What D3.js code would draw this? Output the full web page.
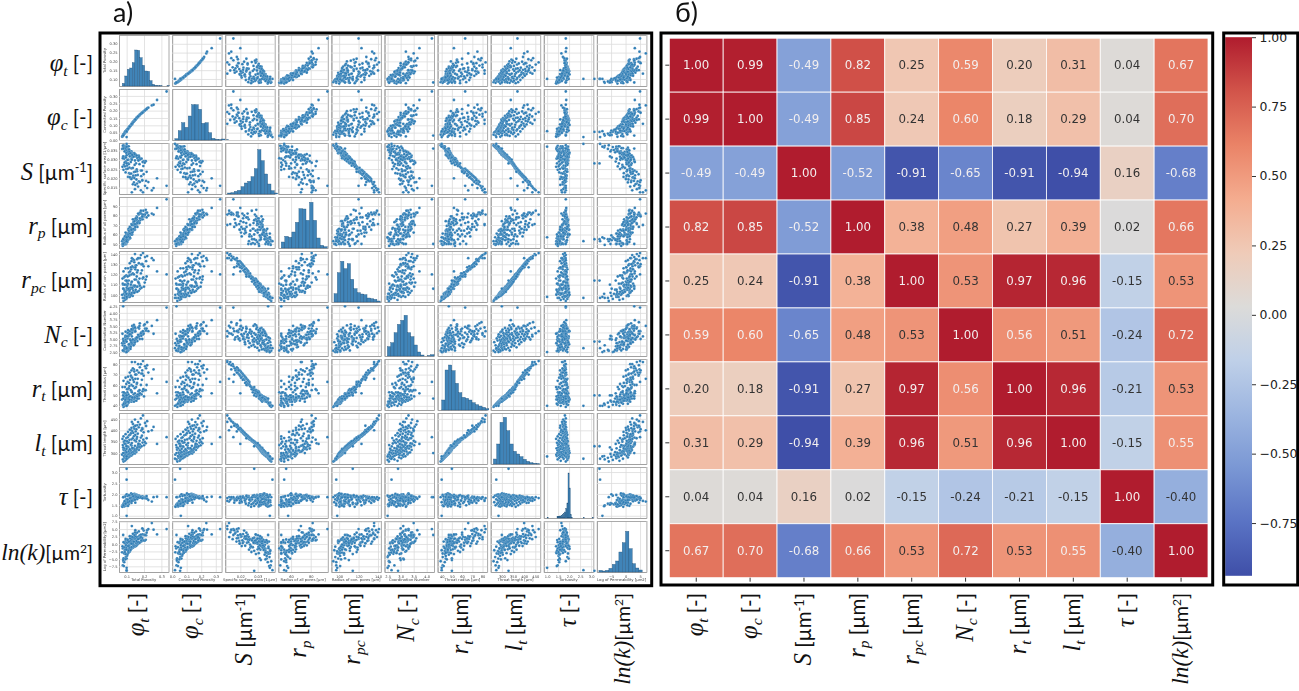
<!DOCTYPE html>
<html><head><meta charset="utf-8">
<script src="https://cdn.jsdelivr.net/npm/d3@7"></script>
<style>html,body{margin:0;padding:0;background:#fff}svg{display:block}</style>
</head><body><svg id="c" width="1299" height="691" xmlns="http://www.w3.org/2000/svg"></svg>
<script>
const axisTitles=["Total Porosity","Connected Porosity","Specific surface area [1/µm]","Radius of all pores [µm]","Radius of con. pores [µm]","Coordination Number","Throat radius [µm]","Throat length [µm]","Tortuosity","Log of Permeability [µm2]"];
const matrixValues=[
[1.00,0.99,-0.49,0.82,0.25,0.59,0.20,0.31,0.04,0.67],
[0.99,1.00,-0.49,0.85,0.24,0.60,0.18,0.29,0.04,0.70],
[-0.49,-0.49,1.00,-0.52,-0.91,-0.65,-0.91,-0.94,0.16,-0.68],
[0.82,0.85,-0.52,1.00,0.38,0.48,0.27,0.39,0.02,0.66],
[0.25,0.24,-0.91,0.38,1.00,0.53,0.97,0.96,-0.15,0.53],
[0.59,0.60,-0.65,0.48,0.53,1.00,0.56,0.51,-0.24,0.72],
[0.20,0.18,-0.91,0.27,0.97,0.56,1.00,0.96,-0.21,0.53],
[0.31,0.29,-0.94,0.39,0.96,0.51,0.96,1.00,-0.15,0.55],
[0.04,0.04,0.16,0.02,-0.15,-0.24,-0.21,-0.15,1.00,-0.40],
[0.67,0.70,-0.68,0.66,0.53,0.72,0.53,0.55,-0.40,1.00]];
const colorbarTicks=[1,0.75,0.5,0.25,0,-0.25,-0.5,-0.75];
const coolwarmStops=["#3f4fa8","#5a73c4","#7a97d4","#9cb5e0","#bfd0e8","#dcdbd9","#efcbb8","#f4ac8f","#ea8367","#d2544a","#b01c2e"];

const phiT=[.082,.090,.095,.078,.098,.105,.086,.092,.112,.100,
.088,.118,.084,.106,.128,.094,.122,.102,.074,.116,
.110,.135,.092,.114,.148,.120,.096,.142,.126,.088,
.130,.104,.156,.098,.138,.116,.150,.112,.144,.124,
.152,.092,.122,.170,.082,.146,.118,.162,.100,.134,
.158,.086,.140,.132,.178,.080,.162,.110,.172,.104,
.186,.096,.148,.128,.200,.078,.166,.124,.176,.094,
.168,.088,.210,.130,.108,.192,.112,.204,.084,.154,
.102,.174,.090,.146,.116,.196,.128,.076,.158,.136,
.098,.182,.106,.160,.082,.142,.188,.114,.150,.120,
.094,.164,.126,.138,.198,.108,.152,.132,.184,.124,
.118,.156,.144,.190,.128,.170,.142,.212,.160,.176,
.136,.206,.166,.218,.148,.182,.194,.330,.275,.245,
.255,.080,.100,.100,.100,.225,.215,.190,.150,.130];
const phiC=[.036,.052,.056,.030,.062,.074,.044,.054,.084,.064,
.046,.092,.040,.072,.106,.058,.098,.068,.022,.090,
.080,.118,.050,.086,.138,.096,.060,.130,.102,.044,
.112,.070,.148,.062,.124,.088,.140,.082,.132,.100,
.142,.054,.096,.164,.034,.134,.092,.154,.066,.116,
.150,.042,.126,.108,.174,.032,.156,.078,.166,.074,
.182,.060,.136,.106,.196,.028,.160,.098,.170,.056,
.162,.048,.208,.110,.076,.188,.084,.200,.040,.144,
.068,.168,.050,.134,.088,.192,.104,.024,.150,.120,
.064,.178,.072,.152,.038,.128,.184,.084,.140,.094,
.058,.158,.102,.122,.194,.076,.142,.112,.180,.098,
.092,.148,.130,.186,.106,.164,.126,.210,.152,.172,
.118,.202,.160,.216,.136,.178,.190,.330,.272,.235,
.240,.030,.055,.020,.060,.220,.210,.185,.140,.110];
const surf=[.0378,.0372,.0368,.0375,.0362,.0370,.0358,.0365,.0372,.0352,
.0360,.0348,.0366,.0355,.0345,.0362,.0338,.0352,.0358,.0342,
.0350,.0335,.0345,.0355,.0330,.0342,.0350,.0326,.0338,.0345,
.0332,.0340,.0322,.0336,.0328,.0342,.0318,.0330,.0336,.0320,
.0328,.0316,.0334,.0322,.0312,.0330,.0318,.0308,.0324,.0314,
.0322,.0306,.0316,.0326,.0304,.0318,.0310,.0300,.0314,.0298,
.0306,.0312,.0296,.0304,.0292,.0308,.0298,.0288,.0302,.0290,
.0296,.0284,.0292,.0300,.0280,.0288,.0276,.0284,.0272,.0280,
.0268,.0276,.0264,.0272,.0258,.0266,.0254,.0262,.0248,.0256,
.0250,.0242,.0252,.0238,.0246,.0234,.0242,.0228,.0236,.0224,
.0232,.0218,.0226,.0214,.0222,.0208,.0216,.0204,.0212,.0198,
.0206,.0194,.0202,.0188,.0196,.0184,.0178,.0186,.0172,.0180,
.0168,.0160,.0156,.0148,.0142,.0136,.0125,.0160,.0200,.0135,
.0148,.0360,.0280,.0385,.0370,.0180,.0235,.0190,.0165,.0125];
const rp=[53,50,57,49,50,61,55,52,55,59,
50,64,56,54,60,51,65,56,53,60,
61,63,50,66,65,56,52,74,60,55,
64,55,69,59,70,58,71,62,65,67,
68,58,62,72,54,76,57,74,60,65,
79,50,73,60,75,55,68,65,73,52,
77,59,70,71,79,48,72,64,77,54,
74,50,86,62,60,76,66,81,51,75,
55,72,58,66,64,85,60,50,76,70,
53,82,58,78,50,72,78,64,68,61,
62,73,66,66,80,58,77,62,82,65,
68,71,74,79,65,81,70,83,72,83,
76,81,82,83,71,85,81,97,88,82,
81,50,55,53,57,80,78,79,68,70];
const rpc=[94,95,96,97,96,98,97,99,98,99,
100,98,101,99,100,102,99,101,100,103,
101,99,102,100,103,101,104,102,100,103,
102,105,103,101,104,106,103,105,102,106,
105,103,107,104,106,108,105,103,107,106,
108,105,109,107,106,110,108,106,111,109,
107,110,109,112,108,111,113,110,109,114,
112,110,115,113,111,116,114,112,117,115,
113,116,118,115,119,117,120,116,118,121,
119,121,118,122,123,120,124,122,125,123,
126,124,125,127,128,126,129,128,130,127,
131,129,132,130,133,131,134,133,135,136,
135,137,136,138,140,139,141,120,123,136,
134,106,114,97,98,128,118,130,127,136];
const coord=[2.55,2.88,2.50,2.76,2.62,3.02,2.58,2.94,2.66,3.10,
2.72,3.18,2.54,2.60,2.78,3.06,2.96,2.52,2.84,3.26,
2.56,2.92,3.12,2.68,3.28,2.74,2.98,2.82,3.30,2.64,
3.36,2.58,3.04,2.90,2.86,3.22,3.00,3.14,2.80,2.70,
2.94,3.08,2.62,3.42,2.98,2.86,3.20,3.04,2.60,3.32,
3.02,2.84,2.76,3.24,3.16,3.00,2.92,3.10,3.40,2.66,
3.26,3.12,2.88,3.34,3.52,2.56,3.06,3.18,3.00,2.96,
3.44,2.70,3.38,2.82,3.22,3.16,2.78,3.56,2.90,3.02,
3.10,3.50,2.74,2.96,3.30,3.28,2.84,3.20,3.04,3.36,
2.68,3.14,3.24,3.06,2.92,3.46,3.18,2.80,3.40,2.98,
3.28,3.08,2.88,3.42,3.20,3.34,3.00,3.50,3.12,2.94,
3.18,3.02,3.48,3.26,3.38,3.10,3.54,3.32,3.06,3.60,
2.98,3.40,3.16,3.64,3.44,3.22,3.30,4.20,3.72,3.50,
3.20,4.25,2.90,2.65,2.50,3.30,3.40,3.00,3.30,3.10];
const rt=[39,40,41,41,42,41,43,42,43,44,
43,44,42,45,44,43,45,44,46,45,
44,46,45,47,45,46,47,44,46,48,
46,47,45,48,47,46,49,48,47,49,
48,46,49,47,50,48,49,47,50,48,
50,49,51,48,52,50,49,51,50,53,
51,50,52,54,49,53,51,55,52,52,
54,52,55,53,56,54,57,55,53,58,
56,55,58,57,59,56,60,58,61,59,
61,60,63,62,64,63,65,62,66,65,
67,66,68,65,69,68,70,67,71,69,
72,70,73,71,74,72,75,76,74,77,
76,78,80,79,82,80,83,63,52,66,
75,47,50,40,40,72,60,74,70,82];
const lt=[263,266,270,272,275,277,279,281,282,284,
285,286,287,288,289,290,291,292,293,294,
295,295,296,297,298,299,300,300,301,302,
303,304,305,305,306,307,308,309,310,311,
312,312,313,314,315,316,317,318,319,320,
320,321,322,323,324,325,326,327,328,329,
330,331,332,333,334,335,336,337,338,340,
341,342,343,344,345,346,347,349,350,351,
352,354,355,356,358,359,360,362,363,365,
366,368,369,371,373,374,376,378,380,381,
383,385,387,389,391,393,395,397,399,401,
403,405,407,409,411,413,416,419,422,425,
428,432,436,440,447,452,465,370,340,400,
415,300,330,275,285,395,365,405,420,437];
const tau=[1.85,1.62,1.92,1.48,1.75,1.95,1.55,1.88,1.70,1.98,
1.60,1.82,1.44,1.90,1.96,1.68,1.78,1.52,1.42,1.93,
1.72,1.87,1.58,1.94,1.99,1.65,1.46,1.86,2.02,1.50,
1.80,1.57,1.97,1.64,1.91,1.74,1.89,1.53,2.00,1.83,
1.93,1.47,1.77,1.88,1.56,1.95,1.69,1.84,1.61,1.98,
1.90,1.43,1.85,1.76,1.86,1.51,1.94,1.66,1.92,1.59,
1.88,1.63,1.96,1.73,1.84,1.49,1.90,1.71,1.83,1.54,
1.91,1.67,1.86,1.79,1.45,1.89,1.60,1.85,1.56,1.94,
1.75,1.87,1.52,1.92,1.68,1.84,1.81,1.41,1.90,1.70,
1.58,1.86,1.73,1.88,1.48,1.77,1.85,1.64,1.92,1.80,
1.55,1.83,1.71,1.89,1.82,1.62,1.87,1.74,1.84,1.69,
1.66,1.85,1.78,1.82,1.59,1.86,1.72,1.81,1.76,1.83,
1.70,1.80,1.84,1.78,1.73,1.85,1.81,1.85,1.87,1.65,
1.85,1.85,3.15,2.65,1.00,1.72,1.90,1.80,1.60,1.68];
const lnk=[-5.8,-2.1,-4.4,-7.2,-0.9,-3.2,-6.1,0.8,-2.4,-4.9,
-3.3,-2.6,-7.4,0.4,-1.6,-1.4,1.1,-4.0,-2.8,-0.3,
-3.0,1.0,-5.2,0.9,-0.9,-2.2,1.3,1.6,-1.6,-2.9,
1.4,-3.6,-0.6,-1.3,-1.2,0.6,1.8,-0.4,-0.8,1.2,
0.3,-1.9,-2.0,2.2,-4.8,-0.5,0.7,-0.2,0.2,1.5,
2.0,-3.1,-0.7,0.9,0.6,-5.4,1.9,-1.8,2.6,0.5,
0.9,-0.4,1.7,-1.0,3.0,-1.5,0.1,1.0,2.9,-3.4,
0.5,0.3,1.4,1.8,-2.3,3.2,0.8,1.1,-1.1,2.1,
1.5,0.4,-2.7,1.9,-1.2,1.2,1.7,-0.8,2.4,-0.2,
-1.9,3.1,1.4,0.4,0.6,2.2,1.5,-0.6,2.6,1.9,
1.7,0.7,2.5,0.3,4.5,-0.7,3.3,2.4,1.2,0.2,
2.6,1.0,3.0,2.0,0.1,4.2,0.8,2.9,3.8,1.9,
3.4,3.0,1.6,4.6,3.9,2.3,5.0,5.0,3.2,7.0,
4.8,3.0,-9.0,-8.8,-8.0,5.0,3.8,5.2,4.6,6.0];

const histPhiT=[8,30,50,54,70,108,107,85,62,45,44,16,5,2,1,1,0,0,1];
const histPhiC=[4,28,52,38,72,106,106,92,50,52,22,5,2,1,3,1];
const histS=[3,4,8,11,22,33,38,52,76,133,100,60,30,10,3];
const histRp=[18,35,32,48,77,118,117,83,137,83,30,8,4];
const histRpc=[25,88,122,100,115,68,40,28,24,22,12,10,8,3];
const histNc=[28,40,70,95,107,122,70,58,33,12,3,0,1,4];
const histRt=[30,120,135,118,80,52,38,35,30,22,16,12,8,4];
const histLt=[15,60,125,140,100,60,38,30,22,14,8,4,2,1];
const histTau=[2,0,0,0,0,0,0,0,0,4,5,6,6,8,10,14,18,28,45,135,90,10,2,0,0,0,0,0,0,0,0,0,0,1,0,0,0,0,0,0,0,1];
const histLnk=[5,3,5,11,23,33,60,88,122,70,25,12,6];
const histStart=[.075,.019,.0127,50,94.7,2.49,40,262,1.0,-9.2];
const histStep=[.0143,.023,.00192,3.6,3.4,.128,3.3,14.8,.05,1.15];

const xDomains=[[.056,.341],[0,.34],[.0113,.0398],[47,97.4],[92,143],[2.38,4.28],[36,84.5],[250,472],[.85,3.1],[-9.9,7.2]];
const yDomains=[[.06,.35],[0,.347],[.0116,.039],[45.8,99.5],[93,143],[2.35,4.3],[36,85],[252,476],[.9,3.23],[-9.4,7.7]];
const xTicks=[[.1,.2,.3],[0,.1,.2,.3],[.02,.03],[60,80],[100,120,140],[2.5,3,3.5,4],[40,50,60,70,80],[300,350,400,450],[1,1.5,2,2.5,3],[-5,0,5]];
const yTicks=[[.1,.15,.2,.25,.3],[0,.05,.1,.15,.2,.25,.3],[.015,.02,.025,.03,.035],[50,60,70,80,90],[100,110,120,130,140],[2.5,2.75,3,3.25,3.5,3.75,4,4.25],[40,50,60,70,80],[300,350,400,450],[1,1.5,2,2.5,3],[-7.5,-5,-2.5,0,2.5,5,7.5]];
const xFormats=[".1f",".1f",".2f","d","d",".1f","d","d",".1f","d"];
const yFormats=[".2f",".2f",".3f","d","d",".2f","d","d",".1f",".1f"];

const bigLabels=[
[["φ","v"],["t","s"],[" [-]","u"]],
[["φ","v"],["c","s"],[" [-]","u"]],
[["S","v"],[" [µm","u"],["-1","p"],["]","u"]],
[["r","v"],["p","s"],[" [µm]","u"]],
[["r","v"],["pc","s"],[" [µm]","u"]],
[["N","v"],["c","s"],[" [-]","u"]],
[["r","v"],["t","s"],[" [µm]","u"]],
[["l","v"],["t","s"],[" [µm]","u"]],
[["τ","v"],[" [-]","u"]],
[["ln(k)","v"],["[µm","u"],["2","p"],["]","u"]]];
const seriesList=[phiT,phiC,surf,rp,rpc,coord,rt,lt,tau,lnk];
const histList=[histPhiT,histPhiC,histS,histRp,histRpc,histNc,histRt,histLt,histTau,histLnk];
const n=seriesList.length;

const svg=d3.select("#c");
const defs=svg.append("defs");
defs.append("filter").attr("id","soft").attr("x","-2%").attr("y","-2%").attr("width","104%").attr("height","104%")
  .append("feGaussianBlur").attr("stdDeviation",0.32);

/* ---------- panel a: scatter matrix ---------- */
const cellLeft=d3.scaleLinear().domain([0,1]).range([119,172.1]);
const cellTop=d3.scaleLinear().domain([0,1]).range([35,89]);
const cw=49.5, ch=51;
const pa=svg.append("g").attr("filter","url(#soft)");
const dotColor="#2f7db5";
for(let r=0;r<n;r++){for(let c=0;c<n;c++){
  const g=pa.append("g").attr("transform",`translate(${cellLeft(c)},${cellTop(r)})`);
  const x=d3.scaleLinear().domain(xDomains[c]).range([0,cw]);
  const y=d3.scaleLinear().domain(yDomains[r]).range([ch,0]);
  const gx=g.append("g").attr("transform",`translate(0,${ch})`)
    .call(d3.axisBottom(x).tickValues(xTicks[c]).tickSize(-ch).tickFormat(r===n-1?d3.format(xFormats[c]):""));
  const gy=g.append("g").call(d3.axisLeft(y).tickValues(r===c?[]:yTicks[r]).tickSize(-cw).tickFormat(""));
  [gx,gy].forEach(a=>{a.selectAll(".tick line").attr("stroke","#dcdcdc").attr("stroke-width",.8);a.select(".domain").attr("stroke","#a0a0a0").attr("stroke-width",.9);});
  gx.selectAll("text").attr("font-size",3.6).attr("font-family","DejaVu Sans").attr("fill","#444").attr("y",3);
  if(c===0){
    const gl=g.append("g").call(d3.axisLeft(y).tickValues(yTicks[r]).tickSize(0).tickPadding(1.5).tickFormat(d3.format(yFormats[r])));
    gl.select(".domain").remove();
    gl.selectAll("text").attr("font-size",3.6).attr("font-family","DejaVu Sans").attr("fill","#444");
    g.append("text").attr("transform",`translate(-13,${ch/2}) rotate(-90)`).attr("text-anchor","middle")
      .attr("font-size",3.8).attr("font-family","DejaVu Sans").attr("fill","#444").text(axisTitles[r]);
  }
  if(r===n-1){
    g.append("text").attr("x",cw/2).attr("y",ch+8.5).attr("text-anchor","middle")
      .attr("font-size",3.8).attr("font-family","DejaVu Sans").attr("fill","#444").text(axisTitles[c]);
  }
  if(r===c){
    const yh=d3.scaleLinear().domain([0,153]).range([ch,0]);
    const step=histStep[c], start=histStart[c];
    g.selectAll("rect").data(histList[c]).join("rect")
      .attr("x",(d,i)=>x(start+i*step)).attr("width",(d,i)=>x(start+(i+1)*step)-x(start+i*step))
      .attr("y",d=>yh(d)).attr("height",d=>ch-yh(d))
      .attr("fill","#3f84b8").attr("stroke","#1f4f78").attr("stroke-width",.35);
  }else{
    g.selectAll("circle").data(d3.range(seriesList[0].length)).join("circle")
      .attr("cx",i=>x(seriesList[c][i])).attr("cy",i=>y(seriesList[r][i]))
      .attr("r",1.4).attr("fill",dotColor).attr("stroke","#fff").attr("stroke-width",.15);
  }
}}

/* ---------- big labels ---------- */
function writeLabel(sel,parts,size){
  const offs={v:0,u:0,s:size*.22,p:-size*.36};
  let prev=0;
  parts.forEach(([t,k])=>{
    const ts=sel.append("tspan").text(t).attr("dy",offs[k]-prev);
    prev=offs[k];
    if(k==="v") ts.attr("font-family","Liberation Serif").attr("font-style","italic").attr("font-size",size*1.2);
    if(k==="s") ts.attr("font-family","Liberation Serif").attr("font-style","italic").attr("font-size",size*.76);
    if(k==="u") ts.attr("font-family","Lato").attr("font-size",size);
    if(k==="p") ts.attr("font-family","Lato").attr("font-size",size*.62);
  });
}
const labelSize=i=>i===n-1?19.5:20.5;
const rowBase=d3.scaleLinear().domain([0,1]).range([71,125.3]);
bigLabels.forEach((p,i)=>{
  writeLabel(svg.append("text").attr("x",93).attr("y",rowBase(i)).attr("text-anchor","end").attr("fill","#111"),p,labelSize(i));
});
const bottomA=d3.scaleLinear().domain([0,1]).range([144,198]);
const heatBand=d3.scaleBand().domain(d3.range(n)).range([669.3,1208]);
bigLabels.forEach((p,i)=>{
  writeLabel(svg.append("text").attr("transform",`translate(${bottomA(i)},593) rotate(-90)`).attr("text-anchor","end").attr("fill","#111"),p,labelSize(i));
  writeLabel(svg.append("text").attr("transform",`translate(${heatBand(i)+heatBand.bandwidth()/2+7},593) rotate(-90)`).attr("text-anchor","end").attr("fill","#111"),p,labelSize(i));
});
svg.append("text").attr("x",113).attr("y",22).attr("font-family","Lato").attr("font-size",27).attr("fill","#111").text("a)");
svg.append("text").attr("x",675).attr("y",22).attr("font-family","Lato").attr("font-size",27).attr("fill","#111").text("б)");

/* ---------- panel b: heatmap ---------- */
const vmin=d3.min(matrixValues.flat()), vmax=d3.max(matrixValues.flat());
const color=d3.scaleLinear().domain(coolwarmStops.map((d,i)=>vmin+(vmax-vmin)*i/10)).range(coolwarmStops);
const rowBand=d3.scaleBand().domain(d3.range(n)).range([38.2,577.7]);
const pb=svg.append("g");
matrixValues.forEach((row,r)=>row.forEach((v,c)=>{
  pb.append("rect").attr("x",heatBand(c)).attr("y",rowBand(r)).attr("width",heatBand.bandwidth()).attr("height",rowBand.bandwidth())
    .attr("fill",color(v)).attr("stroke","#fff").attr("stroke-width",.8);
  pb.append("text").attr("x",heatBand(c)+heatBand.bandwidth()/2).attr("y",rowBand(r)+rowBand.bandwidth()/2+4.2)
    .attr("text-anchor","middle").attr("font-family","DejaVu Sans").attr("font-size",11.8)
    .attr("fill",(v>-0.45&&v<0.54)?"#333":"#f3efef").text(v.toFixed(2));
}));
const ha=pb.append("g").attr("transform","translate(0,577.7)").call(d3.axisBottom(heatBand).tickSize(4).tickFormat(""));
const hb=pb.append("g").attr("transform","translate(669.3,0)").call(d3.axisLeft(rowBand).tickSize(4).tickFormat(""));
[ha,hb].forEach(a=>{a.select(".domain").remove();a.selectAll("line").attr("stroke","#333").attr("stroke-width",1);});

/* ---------- colour bar ---------- */
const cbY=d3.scaleLinear().domain([vmin,vmax]).range([575.8,37.2]);
const grad=defs.append("linearGradient").attr("id","cb").attr("x1",0).attr("x2",0).attr("y1",1).attr("y2",0);
coolwarmStops.forEach((s,i)=>grad.append("stop").attr("offset",i/10).attr("stop-color",s));
svg.append("rect").attr("x",1225.2).attr("y",cbY(vmax)).attr("width",26.8).attr("height",cbY(vmin)-cbY(vmax)).attr("fill","url(#cb)");
const cbAxis=svg.append("g").attr("transform","translate(1252,0)")
  .call(d3.axisRight(cbY).tickValues(colorbarTicks).tickSize(4).tickPadding(3.5).tickFormat(d3.format(".2f")));
cbAxis.select(".domain").remove();
cbAxis.selectAll("line").attr("stroke","#333").attr("stroke-width",1);
cbAxis.selectAll("text").attr("font-family","DejaVu Sans").attr("font-size",12.4).attr("fill","#222");

/* ---------- frames ---------- */
[[100,33,551.7,552.7],[661,33,551.7,552],[1223.7,33,74,552]].forEach(([x,y,w,h])=>{
  svg.append("rect").attr("x",x).attr("y",y).attr("width",w).attr("height",h).attr("fill","none").attr("stroke","#000").attr("stroke-width",3);
});
</script></body></html>
